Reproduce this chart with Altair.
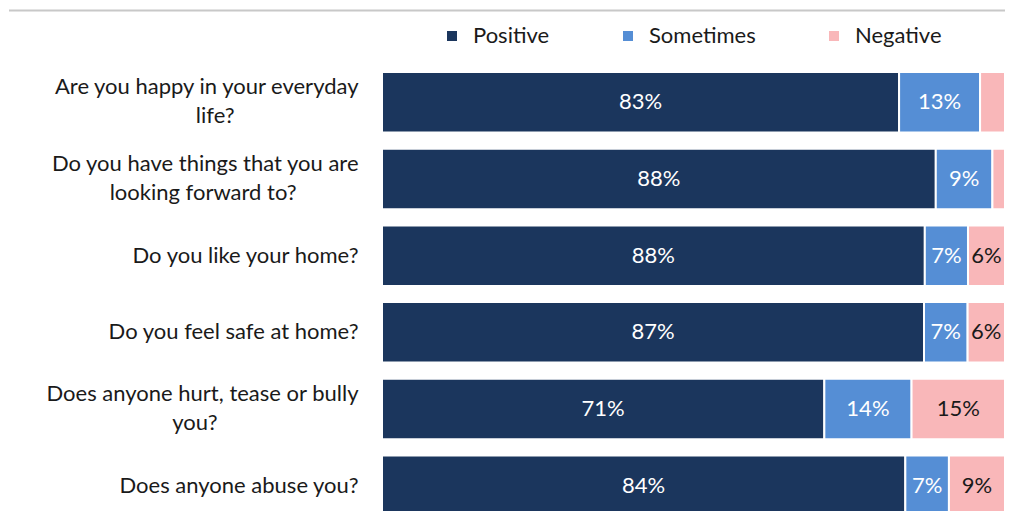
import altair as alt
import pandas as pd

questions = [
    "Are you happy in your everyday\nlife?",
    "Do you have things that you are\nlooking forward to?",
    "Do you like your home?",
    "Do you feel safe at home?",
    "Does anyone hurt, tease or bully\nyou?",
    "Does anyone abuse you?",
]
positive = [83, 88, 88, 87, 71, 84]
sometimes = [13, 9, 7, 7, 14, 7]
negative = [4, 2, 6, 6, 15, 9]
show_negative_label = [False, False, True, True, True, True]

series = ["Positive", "Sometimes", "Negative"]
colors = ["#1B365D", "#558ED5", "#F9B7B9"]

rows = []
for i, q in enumerate(questions):
    for j, (s, vals) in enumerate(zip(series, [positive, sometimes, negative])):
        v = vals[i]
        lab = f"{v}%"
        if s == "Negative" and not show_negative_label[i]:
            lab = ""
        rows.append({"question": q, "series": s, "order": j, "value": v, "label": lab})
df = pd.DataFrame(rows)

FONT = "Lato"
FS = 22

base = alt.Chart(df).transform_stack(
    stack="value", groupby=["question"], as_=["x0", "x1"], offset="normalize",
    sort=[alt.SortField("order")],
).transform_calculate(mid="(datum.x0 + datum.x1) / 2")

# second line padded at its end with no-break spaces (closed by a zero-width space so the
# renderer's trim keeps them) so that, right-aligned, it sits centred under line one
label_expr = (
    "indexof(datum.label, '\\n') >= 0 ? "
    "[split(datum.label, '\\n')[0], "
    "pad(split(datum.label, '\\n')[1], length(split(datum.label, '\\n')[1]) + "
    "round((length(split(datum.label, '\\n')[0]) - length(split(datum.label, '\\n')[1])) * 0.88), "
    "'\u00a0') + '\u200b'] : datum.label"
)

y_enc = alt.Y("question:N", sort=questions, title=None,
              scale=alt.Scale(paddingInner=0.21, paddingOuter=0.105),
              axis=alt.Axis(labelExpr=label_expr, labelFont=FONT,
                            labelFontSize=FS, labelColor="#1a1a1a", labelPadding=24,
                            labelLineHeight=29, ticks=False, domain=False,
                            labelLimit=400,
                            labelBaseline={"condition": {"test": "indexof(datum.value, '\\n') >= 0",
                                                         "value": "line-bottom"},
                                           "value": "middle"}))

bars = base.mark_bar(stroke="white", strokeWidth=2).encode(
    x=alt.X("x0:Q", axis=None, scale=alt.Scale(domain=[0, 1], nice=False)),
    x2="x1:Q",
    y=y_enc,
    color=alt.Color("series:N", sort=series,
                    scale=alt.Scale(domain=series, range=colors),
                    legend=alt.Legend(title=None, orient="none", direction="horizontal",
                                      legendX=59, legendY=-39, symbolType="square",
                                      symbolSize=100, labelFont=FONT, labelFontSize=FS,
                                      labelColor="#1a1a1a", columnPadding=67,
                                      labelOffset=10, symbolStrokeWidth=0)),
)

text = base.mark_text(font=FONT, fontSize=FS, baseline="middle", align="center").encode(
    x=alt.X("mid:Q"),
    y=alt.Y("question:N", sort=questions),
    text="label:N",
    color=alt.condition(alt.datum.series == "Negative", alt.value("#1a1a1a"),
                        alt.value("white")),
)

top_line = alt.Chart(pd.DataFrame({"a": [0]})).mark_rule(color="#c8c8c8", strokeWidth=2).encode(
    x=alt.value(-373), x2=alt.value(625), y=alt.value(-53.5)
)

chart = alt.layer(bars, text, top_line).properties(
    width=623, height=460,
    autosize=alt.AutoSizeParams(type="none"),
    padding={"left": 374, "top": 56, "right": 0, "bottom": 0},
).configure_view(stroke=None)

chart.save("out.html", embed_options={"renderer": "svg", "actions": False})
